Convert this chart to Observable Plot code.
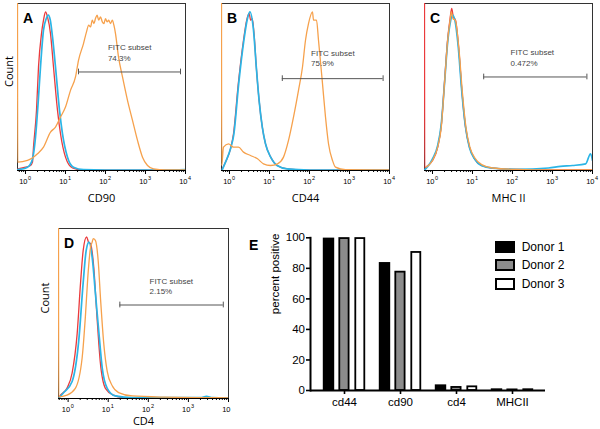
<!DOCTYPE html>
<html><head><meta charset="utf-8">
<script src="https://cdn.jsdelivr.net/npm/d3@7"></script>
<script src="https://cdn.jsdelivr.net/npm/@observablehq/plot@0.6"></script>
<style>
html,body{margin:0;padding:0;background:#fff;}
#root{position:relative;width:600px;height:429px;overflow:hidden;font-family:"Liberation Sans",Arial,sans-serif;background:#fff;}
#root svg{position:absolute;overflow:visible;}
.leg{position:absolute;font-size:12px;line-height:12px;color:#000;white-space:nowrap;}
.sw{position:absolute;box-sizing:border-box;width:20px;height:12px;border:2px solid #000;}
</style></head><body><div id="root"></div>
<script>
// ---------- data (x = log10 fluorescence, y = % of panel height) ----------
const decades = [0, 1, 2, 3, 4];
const expsFull = [0, 1, 2, 3, 4];
const expsD = [0, 1, 2, 3];

const cd90Red = [[-0.19,1],[0,2],[0.125,3],[0.175,5],[0.2,14],[0.275,36],[0.325,62],[0.4,82],[0.45,90],[0.5,95],[0.55,92],[0.625,82],[0.7,62],[0.8,36],[0.875,22],[1.0,8],[1.175,1.5],[1.4,0.4],[2,0.2],[3,0.2],[4,0.2]];
const cd90Blue = [[-0.19,0.5],[0.05,2],[0.15,5],[0.2,10],[0.25,20],[0.32,42],[0.375,62],[0.45,84],[0.52,91],[0.57,93],[0.62,90],[0.675,80],[0.75,62],[0.85,36],[0.925,22],[1.05,8],[1.2,2],[1.45,0.6],[2.5,0.3],[3.5,0.3],[4,0.5]];
const cd90Orange = [[-0.2,100],[-0.195,5],[0.05,6],[0.3,10],[0.45,14],[0.625,23],[0.75,26],[0.875,32],[1.0,38],[1.125,48],[1.25,56],[1.325,66],[1.45,76],[1.525,83],[1.58,87],[1.625,86],[1.67,90],[1.71,88],[1.75,91],[1.79,93],[1.83,90],[1.875,92],[1.92,89],[1.96,88],[2.0,91],[2.04,89],[2.08,90],[2.125,88],[2.17,90],[2.21,87],[2.25,82],[2.325,68],[2.425,56],[2.55,42],[2.675,30],[2.8,18],[2.925,8],[3.05,3],[3.2,1],[3.5,0.3],[4,0.3]];

const cd44Red = [[-0.18,1],[-0.1,5],[0.025,13],[0.1,22],[0.22,52],[0.35,78],[0.43,90],[0.49,94],[0.53,90],[0.57,91],[0.62,80],[0.67,62],[0.74,42],[0.82,26],[0.9,16],[1.03,8],[1.19,3],[1.44,1],[2,0.2],[4,0.2]];
const cd44Blue = [[-0.18,0.5],[-0.1,5],[0.025,13],[0.11,22],[0.23,52],[0.36,78],[0.44,90],[0.51,95],[0.6,84],[0.67,62],[0.74,42],[0.82,26],[0.9,16],[1.03,8],[1.19,3],[1.44,1],[2,0.3],[4,0.3]];
const cd44Orange = [[-0.2,100],[-0.195,3],[-0.15,14],[-0.025,16],[0.1,14],[0.225,14],[0.35,11],[0.525,9],[0.7,7],[0.85,4],[1.025,3],[1.2,4],[1.35,8],[1.475,18],[1.6,32],[1.725,48],[1.825,62],[1.9,78],[1.975,88],[2.075,95],[2.1,90],[2.175,90],[2.225,78],[2.325,52],[2.4,32],[2.475,16],[2.575,6],[2.65,2],[2.9,0.5],[4,0.3]];

const mhcRed = [[-0.2,100],[-0.195,1],[-0.16,2],[0,6],[0.13,14],[0.22,27],[0.3,53],[0.38,79],[0.44,91],[0.48,97],[0.52,92],[0.575,90],[0.66,72],[0.74,46],[0.825,26],[0.925,14],[1.05,7],[1.22,3],[1.51,1.4],[2.1,0.6],[3,0.3],[4,0.3]];
const mhcBlue = [[-0.19,0.5],[-0.1,3],[0,7],[0.13,15],[0.22,28],[0.3,52],[0.38,77],[0.44,88],[0.5,93],[0.56,90],[0.64,75],[0.73,48],[0.82,27],[0.92,14],[1.05,7],[1.22,3],[1.5,1.4],[2.1,0.7],[2.9,1.5],[3.2,2.5],[3.5,3],[3.83,4],[3.95,10],[4,6]];
const mhcOrange = [[-0.16,2],[0,6],[0.13,14],[0.22,26],[0.3,52],[0.38,78],[0.44,90],[0.47,95],[0.51,91],[0.57,90],[0.66,73],[0.75,46],[0.835,26],[0.935,14],[1.06,7.5],[1.23,3.5],[1.5,1.5],[2.1,0.7],[3,0.4],[4,0.4]];

const cd4Red = [[-0.22,1],[-0.19,2],[-0.03,6],[0.1,15],[0.225,38],[0.31,68],[0.375,87],[0.46,95],[0.51,92],[0.56,91],[0.64,77],[0.72,48],[0.8,22],[0.93,6],[1.13,2],[1.4,0.5],[2,0.3],[4,0.3]];
const cd4Blue = [[-0.22,0.5],[-0.11,3.5],[0.1,10],[0.265,34],[0.375,68],[0.45,87],[0.52,92],[0.6,83],[0.68,62],[0.77,38],[0.85,18],[0.975,6],[1.18,1.5],[1.6,0.5],[3.3,0.5],[3.45,1.2],[3.6,0.5],[4,0.3]];
const cd4Orange = [[-0.24,100],[-0.235,1],[-0.03,2],[0.18,6],[0.35,24],[0.43,48],[0.49,71],[0.56,89],[0.6,92],[0.625,94],[0.68,93],[0.75,81],[0.81,58],[0.89,32],[0.975,16],[1.1,7.5],[1.26,3.5],[1.6,1.5],[2.4,0.8],[3.5,0.5],[4,0.4]];

const gateA = {x1: 1.325, x2: 3.875, y: 59};
const gateB = {x1: 1.32, x2: 3.84, y: 55};
const gateC = {x1: 1.28, x2: 3.86, y: 56};
const gateD = {x1: 1.29, x2: 3.87, y: 55};
const gateTextA = {x: 2.06, y: [73.5, 67]};
const gateTextB = {x: 2.04, y: [70, 64]};
const gateTextC = {x: 1.95, y: [70.5, 64]};
const gateTextD = {x: 2.03, y: [69, 63]};
const gateName = "FITC subset";
const pctA = "74.3%", pctB = "75.9%", pctC = "0.472%", pctD = "2.15%";

// bar chart
const cats = ["cd44", "cd90", "cd4", "MHCII"];
const donor1 = [99.2, 83.2, 3.1, 0.5];
const donor2 = [99.5, 77.5, 2.0, 0.4];
const donor3 = [99.5, 90.4, 2.4, 0.5];
const donorNames = ["Donor 1", "Donor 2", "Donor 3"];
const yTicksE = [0, 20, 40, 60, 80, 100];

// ---------- drawing ----------
const root = document.getElementById("root");
const RED = "#ea3a3c", BLUE = "#2bb5e6", ORANGE = "#f6a14c";
const SANS = '"Liberation Sans", Arial, sans-serif';
const TITLE = '"Open Sans", "Liberation Sans", sans-serif';

const minorTicks = [];
for (let d = -1; d < 4; d++) for (let k = 2; k <= 9; k++) minorTicks.push(d + Math.log10(k));

function place(svg, left, top) {
  svg.style.left = left + "px";
  svg.style.top = top + "px";
  root.appendChild(svg);
}

function hist(o) {
  const cap = 1.7;
  const [x0, x1] = o.xdom;
  const minor = minorTicks.filter(t => t > x0 && t < x1);
  const svg = Plot.plot({
    width: o.w, height: o.h,
    marginLeft: o.ml, marginRight: o.mr, marginTop: o.mt, marginBottom: o.mb,
    style: {fontFamily: SANS, background: "transparent", color: "#000"},
    x: {domain: o.xdom},
    y: {domain: [0, 100], axis: null},
    marks: [
      Plot.frame({stroke: "#333", strokeWidth: 1}),
      Plot.axisX(minor, {tickSize: 2, tickFormat: () => "", stroke: "#000"}),
      Plot.axisX(decades, {tickSize: 4, tickFormat: () => "", stroke: "#000"}),
      Plot.ruleY([0], {stroke: "#000", strokeWidth: 1.2}),
      Plot.line(o.red, {stroke: RED, strokeWidth: 1.3, curve: "monotone-x", clip: true}),
      Plot.line(o.blue, {stroke: BLUE, strokeWidth: 1.7, curve: "monotone-x", clip: true}),
      Plot.line(o.orange, {stroke: ORANGE, strokeWidth: 1.3, curve: "monotone-x", clip: true}),
      Plot.ruleY([o.gate], {x1: d => d.x1, x2: d => d.x2, y: d => d.y, stroke: "#555", strokeWidth: 1}),
      Plot.ruleX([o.gate.x1, o.gate.x2], {x: d => d, y1: o.gate.y - cap, y2: o.gate.y + cap, stroke: "#555", strokeWidth: 1}),
      Plot.text([{t: gateName, y: o.gt.y[0]}, {t: o.pct, y: o.gt.y[1]}],
        {x: () => o.gt.x, y: "y", text: "t", textAnchor: "start", fontSize: 8, fill: "#444"}),
      Plot.text(decades, {x: d => d, frameAnchor: "bottom", dy: 13, dx: -2.2, text: () => "10", fontSize: 7.5}),
      Plot.text(o.exps, {x: d => d, frameAnchor: "bottom", dy: 9.5, dx: 2.6, text: d => String(d), fontSize: 5.5, textAnchor: "start"}),
      Plot.text([o.xlabel], {frameAnchor: "bottom", dy: o.xlabDy, fontSize: 11, fontFamily: TITLE}),
      ...(o.count ? [Plot.text(["Count"], {frameAnchor: "left", dx: o.countDx, rotate: -90, fontSize: 11, fontFamily: TITLE})] : []),
      Plot.text([o.letter], {frameAnchor: "top-left", dx: 5.5, dy: 9.5, textAnchor: "start", fontSize: 14, fontWeight: "bold", fontFamily: SANS})
    ]
  });
  place(svg, o.left, o.top);
}

const topPanel = {w: 200, h: 210, ml: 17, mr: 15, mt: 3, mb: 40, xdom: [-0.2, 4], exps: expsFull, xlabDy: 31};
hist({...topPanel, left: 0, top: 0, red: cd90Red, blue: cd90Blue, orange: cd90Orange, gate: gateA, gt: gateTextA, pct: pctA, xlabel: "CD90", letter: "A", count: true, countDx: -8});
hist({...topPanel, left: 204, top: 0, red: cd44Red, blue: cd44Blue, orange: cd44Orange, gate: gateB, gt: gateTextB, pct: pctB, xlabel: "CD44", letter: "B", count: false});
hist({...topPanel, left: 407, top: 0, red: mhcRed, blue: mhcBlue, orange: mhcOrange, gate: gateC, gt: gateTextC, pct: pctC, xlabel: "MHC II", letter: "C", count: false});
hist({w: 200, h: 204, ml: 16, mr: 14, mt: 3, mb: 31, xdom: [-0.24, 4], exps: expsD, xlabDy: 26.5,
  left: 42, top: 225, red: cd4Red, blue: cd4Blue, orange: cd4Orange, gate: gateD, gt: gateTextD, pct: pctD, xlabel: "CD4", letter: "D", count: true, countDx: -13});

// ---------- panel E ----------
const fills = ["#000", "#8c8c8c", "#fff"];
const insets = [[7.7, 38.7], [23.3, 23.4], [39.3, 7.7]];
const series = [donor1, donor2, donor3];
const svgE = Plot.plot({
  width: 360, height: 209, marginLeft: 70, marginRight: 55, marginTop: 17.3, marginBottom: 39,
  style: {fontFamily: SANS, fontSize: "11px", background: "transparent", color: "#000"},
  x: {domain: cats, range: [75, 301.8], padding: 0, label: null},
  y: {domain: [0, 100], label: null},
  marks: [
    Plot.axisY(yTicksE, {tickSize: 4, tickPadding: 1.5, fontSize: 11.5, strokeWidth: 1.6}),
    Plot.axisX(cats, {tickSize: 4, tickPadding: 3, fontSize: 11.5, strokeWidth: 1.6}),
    ...series.map((s, k) => Plot.barY(cats.map((c, i) => ({cat: c, v: s[i]})),
      {x: "cat", y: "v", fill: fills[k], stroke: "#000", strokeWidth: 1.8, insetLeft: insets[k][0], insetRight: insets[k][1]})),
    Plot.ruleY([0], {stroke: "#000", strokeWidth: 2}),
    Plot.frame({anchor: "left", stroke: "#000", strokeWidth: 2}),
    Plot.text(["percent positive"], {frameAnchor: "left", rotate: -90, dx: -35, fontSize: 11.5}),
    Plot.text(["E"], {frameAnchor: "top-left", dx: -61.5, dy: 2.2, fontSize: 14, fontWeight: "bold"})
  ]
});
place(svgE, 240, 220);

// legend
donorNames.forEach((name, k) => {
  const top = 240.7 + k * 18.7;
  const sw = document.createElement("div");
  sw.className = "sw";
  sw.style.left = "495px"; sw.style.top = top + "px"; sw.style.background = fills[k];
  root.appendChild(sw);
  const t = document.createElement("div");
  t.className = "leg";
  t.style.left = "521.7px"; t.style.top = top + "px";
  t.textContent = name;
  root.appendChild(t);
});
</script></body></html>
